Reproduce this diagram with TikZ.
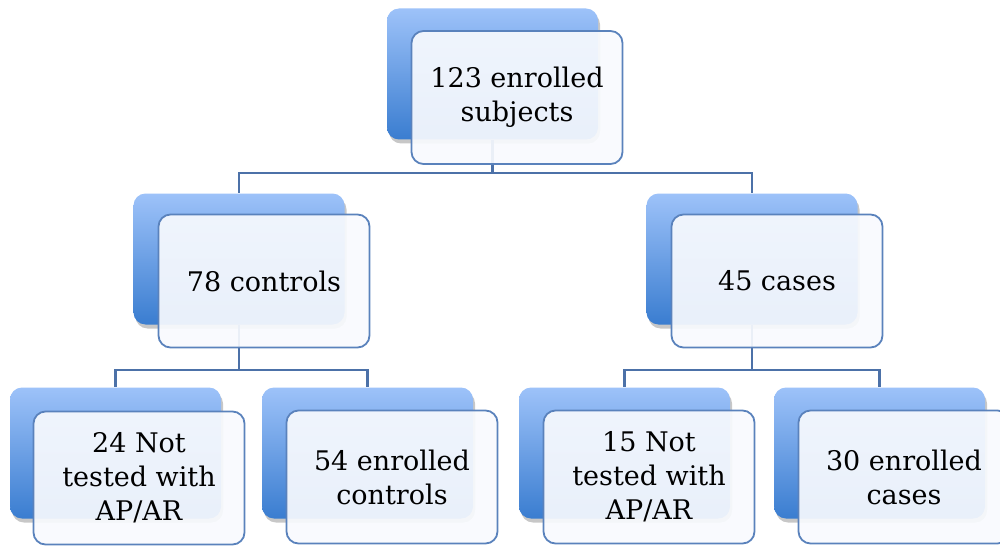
\documentclass[tikz,border=0pt]{standalone}
\usepackage{fontspec}
\setmainfont{DejaVu Serif}
\usetikzlibrary{shadows}
\definecolor{backtop}{HTML}{9DC2F9}
\definecolor{backbot}{HTML}{3A7DD0}
\definecolor{frontfill}{HTML}{F8FAFE}
\definecolor{frontline}{HTML}{5A82BC}
\definecolor{linkcol}{HTML}{4C71A8}
\tikzset{
  backbox/.style={rounded corners=12pt, minimum width=211pt, minimum height=131pt,
    top color=backtop, bottom color=backbot, draw=none, inner sep=0pt,
    drop shadow={shadow xshift=2pt, shadow yshift=-4pt, opacity=0.22, fill=black}},
  frontbox/.style={rounded corners=12pt, minimum width=211pt, minimum height=133pt,
    fill=frontfill, fill opacity=0.92, text opacity=1, draw=frontline, line width=1.8pt,
    inner sep=0pt, align=center, font=\fontsize{27}{34}\selectfont},
  link/.style={draw=linkcol, line width=2.2pt}
}
\begin{document}
\begin{tikzpicture}[x=1pt,y=-1pt]
\useasboundingbox (0,0) rectangle (1000,548);
% junction coordinates
\coordinate (j1) at (492.5,173);
\coordinate (j2) at (239,370);
\coordinate (j3) at (752,370);
% back boxes
\node[backbox] (b1) at (492.5,74) {};
\node[backbox] (b2) at (239,259) {};
\node[backbox] (b3) at (752,259) {};
\node[backbox] (b4) at (115.5,453) {};
\node[backbox] (b5) at (367.5,453) {};
\node[backbox] (b6) at (624.5,453) {};
\node[backbox] (b7) at (879.5,453) {};
% connectors
\draw[link] (b1.south) -- (j1);
\draw[link] (j1) -| (b2.north);
\draw[link] (j1) -| (b3.north);
\draw[link] (b2.south) -- (j2);
\draw[link] (j2) -| (b4.north);
\draw[link] (j2) -| (b5.north);
\draw[link] (b3.south) -- (j3);
\draw[link] (j3) -| (b6.north);
\draw[link] (j3) -| (b7.north);
% front boxes
\node[frontbox] (f1) at (517,97.5) {123 enrolled\\subjects};
\node[frontbox] (f2) at (264,281) {78 controls};
\node[frontbox] (f3) at (777,281) {45 cases};
\node[frontbox] (f4) at (139,478) {24 Not\\tested with\\AP/AR};
\node[frontbox] (f5) at (392,477) {54 enrolled\\controls};
\node[frontbox] (f6) at (649,477) {15 Not\\tested with\\AP/AR};
\node[frontbox] (f7) at (904,477) {30 enrolled\\cases};
\end{tikzpicture}
\end{document}
